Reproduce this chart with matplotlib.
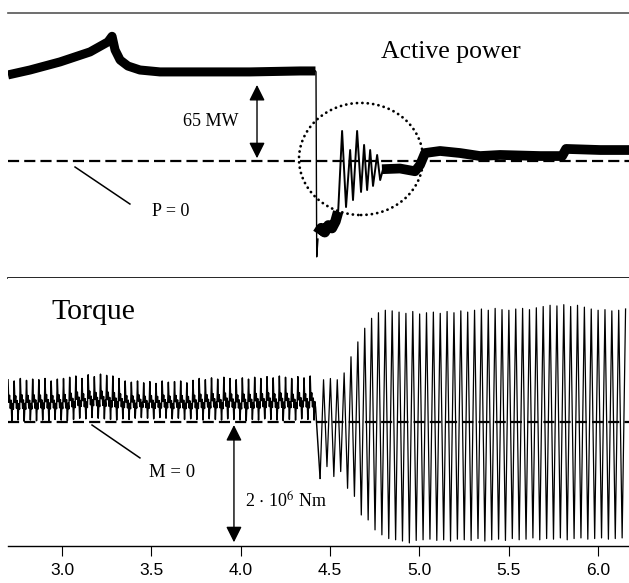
import numpy as np
import matplotlib
matplotlib.use('Agg')
import matplotlib.pyplot as plt
from matplotlib.patches import Ellipse

plt.rcParams['mathtext.fontset'] = 'stix'
SERIF = 'Liberation Serif'
SANS = 'Liberation Sans'

# ---------------- Active power (MW) ----------------
p_pre_t = [2.698, 2.821, 2.989, 3.157, 3.257, 3.280, 3.297, 3.325, 3.369, 3.436,
           3.548, 3.772, 4.052, 4.332, 4.418]
p_pre_v = [62.8, 66.4, 72.3, 79.6, 86.9, 91.0, 81.0, 73.7, 69.3, 66.4,
           65.0, 65.0, 65.0, 65.7, 65.7]
p_drop_t = [4.418, 4.421, 4.425, 4.432]
p_drop_v = [65.7, 65.0, -70.0, -57.0]
p_low_t = [4.430, 4.45, 4.47, 4.49, 4.51, 4.53, 4.545]
p_low_v = [-53, -49, -52, -47, -49, -44, -37]
p_osc_t = [4.545, 4.567, 4.589, 4.612, 4.628, 4.651, 4.673, 4.690, 4.707, 4.724,
           4.740, 4.763, 4.780, 4.796]
p_osc_v = [-37, 21.9, -33.6, 8.0, -28.5, 21.9, -22.6, 11.7, -21.2, 8.0,
           -18.2, 4.4, -13.9, -6.0]
p_post_t = [4.790, 4.891, 4.975, 5.003, 5.031, 5.115, 5.227, 5.339, 5.451, 5.675,
            5.798, 5.820, 6.011, 6.173]
p_post_v = [-6.0, -5.5, -7.5, -2.9, 5.8, 7.3, 5.8, 3.6, 4.4, 3.6,
            3.6, 8.8, 8.0, 8.0]

# ---------------- Torque (1e6 Nm), read per cycle from the picture ----------------
tq_pre_start = 2.698
tq_pre_period = 0.0345
tq_pre_peaks = [0.68, 0.66, 0.70, 0.67, 0.69, 0.68, 0.70, 0.66, 0.69, 0.70,
                0.72, 0.74, 0.70, 0.76, 0.73, 0.77, 0.75, 0.74, 0.70, 0.66,
                0.64, 0.66, 0.63, 0.65, 0.62, 0.66, 0.64, 0.65, 0.66, 0.63,
                0.67, 0.70, 0.68, 0.71, 0.69, 0.72, 0.70, 0.68, 0.71, 0.69,
                0.72, 0.70, 0.73, 0.71, 0.74, 0.72, 0.70, 0.73, 0.71, 0.74]
tq_pre_troughs = [0.02, 0.03, 0.01, 0.03, 0.02, 0.03, 0.02, 0.04, 0.03, 0.02,
                  0.04, 0.06, 0.05, 0.07, 0.06, 0.05, 0.04, 0.03, 0.05, 0.04,
                  0.06, 0.07, 0.06, 0.05, 0.07, 0.06, 0.05, 0.06, 0.04, 0.05,
                  0.04, 0.03, 0.05, 0.04, 0.03, 0.05, 0.04, 0.03, 0.02, 0.04,
                  0.03, 0.05, 0.04, 0.03, 0.02, 0.04, 0.03, 0.05, 0.04, 0.03]
tq_pre_shape = [1.0, 0.45, 0.62, 0.30, 0.50, 0.0, 0.42, 0.28]

tq_post_start = 4.444
tq_post_period = 0.0384
tq_post_troughs = [-0.91, -0.72, -0.88, -0.80, -1.07, -1.20, -1.50, -1.58, -1.74, -1.82,
                   -1.88, -1.90, -1.92, -1.95, -1.91, -1.90, -1.89, -1.91, -1.90, -1.92,
                   -1.89, -1.90, -1.91, -1.88, -1.92, -1.90, -1.89, -1.91, -1.88, -1.90,
                   -1.89, -1.87, -1.90, -1.88, -1.89, -1.87, -1.90, -1.88, -1.87, -1.89,
                   -1.88, -1.87, -1.89, -1.88, -1.87]
tq_post_peaks = [0.68, 0.70, 0.68, 0.79, 1.05, 1.29, 1.51, 1.67, 1.76, 1.80,
                 1.79, 1.77, 1.75, 1.78, 1.74, 1.76, 1.77, 1.75, 1.78, 1.76,
                 1.79, 1.77, 1.80, 1.82, 1.80, 1.83, 1.81, 1.80, 1.82, 1.83,
                 1.81, 1.84, 1.86, 1.88, 1.87, 1.89, 1.86, 1.88, 1.85, 1.82,
                 1.80, 1.81, 1.79, 1.80, 1.82]

x_ticks = [3.0, 3.5, 4.0, 4.5, 5.0, 5.5, 6.0]
x_tick_labels = ['3.0', '3.5', '4.0', '4.5', '5.0', '5.5', '6.0']

# ---------------- figure ----------------
W, H = 629, 583
fig = plt.figure(figsize=(W / 100, H / 100), dpi=100)
ax1 = fig.add_axes([8 / W, 1 - 278 / H, 621 / W, 265 / H])
ax2 = fig.add_axes([8 / W, 1 - 546 / H, 621 / W, 268 / H], sharex=ax1)

xlim = (2.698, 6.172)
ax1.set_xlim(*xlim)
ax1.set_ylim(-85.4, 108.0)
ax2.set_ylim(-2.0, 2.32)

# --- top panel ---
for t, v, w in [(p_pre_t, p_pre_v, 6.5), (p_low_t, p_low_v, 7.5),
                (p_post_t, p_post_v, 7.0)]:
    ax1.plot(t, v, color='black', lw=w, solid_joinstyle='round', solid_capstyle='butt', zorder=3)
ax1.plot(p_drop_t, p_drop_v, color='black', lw=1.0, zorder=3)
ax1.plot(p_osc_t, p_osc_v, color='black', lw=1.4, zorder=3)
ax1.axhline(0, color='black', lw=1.6, dashes=(5, 2.3), zorder=1)

ax1.add_patch(Ellipse((4.673, 1.46), 0.694, 81.8, fill=False, edgecolor='black',
                      lw=2.0, linestyle=(0, (0.05, 1.9)), capstyle='round', zorder=4))

ax1.annotate('', xy=(4.091, 2.0), xytext=(4.091, 55.5),
             arrowprops=dict(arrowstyle='<|-|>,head_length=0.8,head_width=0.4',
                             mutation_scale=12, color='black', lw=1.0,
                             shrinkA=0, shrinkB=0))
ax1.text(3.834, 28.5, '65 MW', family=SERIF, fontsize=13, ha='center', va='center')
ax1.plot([3.073, 3.380], [-4.4, -31.4], color='black', lw=1.1)
ax1.text(3.61, -37.2, 'P = 0', family=SERIF, fontsize=13, ha='center', va='center')
ax1.text(5.177, 79.6, 'Active power', family=SERIF, fontsize=18.5, ha='center', va='center')

for s in ['left', 'right']:
    ax1.spines[s].set_visible(False)
ax1.spines['top'].set_color('#555555')
ax1.spines['top'].set_linewidth(1.2)
ax1.spines['bottom'].set_color('black')
ax1.spines['bottom'].set_linewidth(1.2)
ax1.tick_params(left=False, labelleft=False, bottom=False, labelbottom=False)

# --- bottom panel: torque ---
tt, vv = [], []
step = tq_pre_period / len(tq_pre_shape)
for k, (pk, tr) in enumerate(zip(tq_pre_peaks, tq_pre_troughs)):
    for j, f in enumerate(tq_pre_shape):
        tt.append(tq_pre_start + k * tq_pre_period + j * step)
        vv.append(tr + f * (pk - tr))
n_pre = len(tt)
for k, (tr, pk) in enumerate(zip(tq_post_troughs, tq_post_peaks)):
    tt.append(tq_post_start + k * tq_post_period)
    vv.append(tr)
    tt.append(tq_post_start + k * tq_post_period + tq_post_period / 2)
    vv.append(pk)
ax2.plot(tt[:n_pre + 1], vv[:n_pre + 1], color='black', lw=1.05, zorder=2)
ax2.plot(tt[n_pre:], vv[n_pre:], color='black', lw=0.9, zorder=2)
ax2.axhline(0, color='black', lw=1.6, dashes=(5, 2.3), zorder=3)

ax2.annotate('', xy=(3.962, -0.05), xytext=(3.962, -1.94),
             arrowprops=dict(arrowstyle='<|-|>,head_length=0.8,head_width=0.4',
                             mutation_scale=12, color='black', lw=1.0,
                             shrinkA=0, shrinkB=0))
ax2.text(4.024, -1.29, r'2 $\cdot$ 10$^6$ Nm', family=SERIF, fontsize=13, ha='left', va='center')
ax2.plot([3.168, 3.436], [-0.05, -0.58], color='black', lw=1.1)
ax2.text(3.616, -0.82, 'M = 0', family=SERIF, fontsize=13.5, ha='center', va='center')
ax2.text(3.173, 1.77, 'Torque', family=SERIF, fontsize=21.5, ha='center', va='center')

for s in ['left', 'right', 'top']:
    ax2.spines[s].set_visible(False)
ax2.spines['bottom'].set_linewidth(1.0)
ax2.set_xticks(x_ticks)
ax2.set_xticklabels(x_tick_labels, family=SANS, fontsize=12.5)
ax2.tick_params(axis='x', direction='out', length=7, width=0.8, pad=5, colors='black')
ax2.tick_params(left=False, labelleft=False)

fig.savefig('out.png', dpi=100)
